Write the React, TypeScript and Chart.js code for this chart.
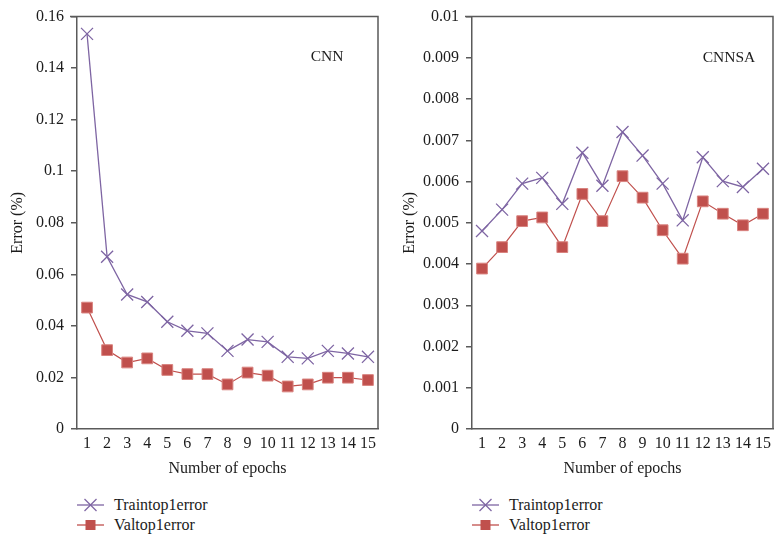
import React, { useEffect, useRef } from "react";
import { Chart, registerables } from "chart.js";

Chart.register(...registerables);

const epochs = ["1", "2", "3", "4", "5", "6", "7", "8", "9", "10", "11", "12", "13", "14", "15"];

const cnnTrain = [0.1533, 0.0668, 0.0522, 0.0493, 0.0416, 0.0381, 0.0371, 0.0303, 0.0347, 0.0338, 0.028, 0.0274, 0.0303, 0.0293, 0.028];
const cnnVal = [0.0471, 0.0306, 0.0258, 0.0274, 0.0229, 0.0213, 0.0213, 0.0173, 0.0219, 0.0207, 0.0165, 0.0173, 0.0199, 0.0199, 0.019];

const cnnsaTrain = [0.0048, 0.00532, 0.00595, 0.00609, 0.00546, 0.0067, 0.0059, 0.0072, 0.00663, 0.00595, 0.00506, 0.00659, 0.00601, 0.00587, 0.00631];
const cnnsaVal = [0.00389, 0.00441, 0.00504, 0.00513, 0.00441, 0.0057, 0.00504, 0.00613, 0.00561, 0.00482, 0.00413, 0.00552, 0.00522, 0.00494, 0.00522];

const cnnAxis = { max: 0.16, step: 0.02 };
const cnnsaAxis = { max: 0.01, step: 0.001 };

const seriesNames = ["Traintop1error", "Valtop1error"];
const xTitle = "Number of epochs";
const yTitle = "Error (%)";

const PURPLE = "#7E65A3";
const RED = "#C0504D";
const AXIS = "#5a5a5a";
const TEXT = "#1c1c1c";
const FONT = "'Liberation Serif', 'Times New Roman', serif";

const CW = 392;
const CH = 485;

type PanelProps = {
  train: number[];
  val: number[];
  axis: { max: number; step: number };
  label: string;
  labelX: number;
  labelY: number;
  yWidth: number;
  padRight: number;
};

function Panel(p: PanelProps) {
  const ref = useRef<HTMLCanvasElement | null>(null);
  useEffect(() => {
    if (!ref.current) return;
    const framePlugin = {
      id: "frame",
      afterDraw(chart: any) {
        const { ctx, chartArea } = chart;
        ctx.save();
        ctx.strokeStyle = AXIS;
        ctx.lineWidth = 1.5;
        ctx.beginPath();
        ctx.moveTo(chartArea.left - 7, chartArea.top);
        ctx.lineTo(chartArea.right, chartArea.top);
        ctx.lineTo(chartArea.right, chartArea.bottom);
        ctx.stroke();
        ctx.fillStyle = TEXT;
        ctx.font = `15.5px ${FONT}`;
        ctx.textAlign = "center";
        ctx.textBaseline = "middle";
        ctx.fillText(p.label, p.labelX, p.labelY);
        ctx.restore();
      },
    };
    const chart = new Chart(ref.current, {
      type: "line",
      data: {
        labels: epochs,
        datasets: [
          {
            label: seriesNames[0],
            data: p.train,
            borderColor: PURPLE,
            backgroundColor: PURPLE,
            borderWidth: 1.3,
            pointStyle: "crossRot",
            pointRadius: 8.5,
            pointBorderWidth: 1.3,
            pointBorderColor: PURPLE,
            tension: 0,
          },
          {
            label: seriesNames[1],
            data: p.val,
            borderColor: RED,
            backgroundColor: RED,
            borderWidth: 1.2,
            pointStyle: "rect",
            pointRadius: 7.6,
            pointBorderWidth: 1,
            pointBorderColor: "#d9837f",
            pointBackgroundColor: RED,
            tension: 0,
          },
        ],
      },
      options: {
        responsive: false,
        animation: false,
        layout: { padding: { left: 0, top: 16, right: p.padRight, bottom: 0 } },
        plugins: {
          legend: { display: false },
          tooltip: { enabled: false },
        },
        scales: {
          x: {
            offset: true,
            grid: { display: false, drawTicks: false, tickLength: 0 },
            border: { display: true, color: AXIS, width: 1.5 },
            ticks: {
              color: TEXT,
              font: { family: FONT, size: 16 },
              padding: 5,
              autoSkip: false,
              maxRotation: 0,
            },
            title: {
              display: true,
              text: xTitle,
              color: TEXT,
              font: { family: FONT, size: 16 },
              padding: { top: 0, bottom: 7 },
            },
            afterFit(scale: any) {
              scale.height = CH - 429;
            },
          },
          y: {
            min: 0,
            max: p.axis.max,
            grid: {
              display: true,
              drawOnChartArea: false,
              drawTicks: true,
              tickLength: 6,
              color: AXIS,
              lineWidth: 1.5,
            },
            border: { display: true, color: AXIS, width: 1.5 },
            ticks: {
              stepSize: p.axis.step,
              color: TEXT,
              font: { family: FONT, size: 16 },
              padding: 7,
              callback: (v: any) => String(+(+v).toFixed(6)),
            },
            title: {
              display: true,
              text: yTitle,
              color: TEXT,
              font: { family: FONT, size: 16 },
              padding: { top: 8, bottom: 0 },
            },
            afterFit(scale: any) {
              scale.width = p.yWidth;
            },
          },
        },
      },
      plugins: [framePlugin],
    } as any);
    return () => chart.destroy();
  }, []);
  return <canvas ref={ref} width={CW} height={CH} style={{ display: "block", width: CW, height: CH }} />;
}

function LegendMarker({ kind, color }: { kind: "cross" | "rect"; color: string }) {
  return (
    <svg width={27} height={14} style={{ display: "block" }}>
      <line x1={0} y1={7} x2={27} y2={7} stroke={color} strokeWidth={1.3} />
      {kind === "cross" ? (
        <g stroke={color} strokeWidth={1.3}>
          <line x1={7.5} y1={1} x2={19.5} y2={13} />
          <line x1={7.5} y1={13} x2={19.5} y2={1} />
        </g>
      ) : (
        <rect x={8.5} y={2} width={10} height={10} fill={color} />
      )}
    </svg>
  );
}

function Legend({ left }: { left: number }) {
  const rows: { kind: "cross" | "rect"; color: string; name: string }[] = [
    { kind: "cross", color: PURPLE, name: seriesNames[0] },
    { kind: "rect", color: RED, name: seriesNames[1] },
  ];
  return (
    <div style={{ position: "absolute", left, top: 495, fontFamily: FONT, fontSize: 16, color: TEXT }}>
      {rows.map((r) => (
        <div key={r.name} style={{ display: "flex", alignItems: "center", height: 20 }}>
          <LegendMarker kind={r.kind} color={r.color} />
          <span style={{ marginLeft: 10, lineHeight: "20px" }}>{r.name}</span>
        </div>
      ))}
    </div>
  );
}

export default function App() {
  useEffect(() => {
    document.body.style.margin = "0";
    document.body.style.background = "#ffffff";
  }, []);
  return (
    <div style={{ position: "relative", width: 784, height: 545, background: "#fff", overflow: "hidden" }}>
      <div style={{ position: "absolute", left: 0, top: 0 }}>
        <Panel train={cnnTrain} val={cnnVal} axis={cnnAxis} label="CNN" labelX={327} labelY={57} yWidth={77} padRight={14} />
      </div>
      <div style={{ position: "absolute", left: 392, top: 0 }}>
        <Panel train={cnnsaTrain} val={cnnsaVal} axis={cnnsaAxis} label="CNNSA" labelX={337} labelY={58} yWidth={80} padRight={11} />
      </div>
      <Legend left={77} />
      <Legend left={472} />
    </div>
  );
}
